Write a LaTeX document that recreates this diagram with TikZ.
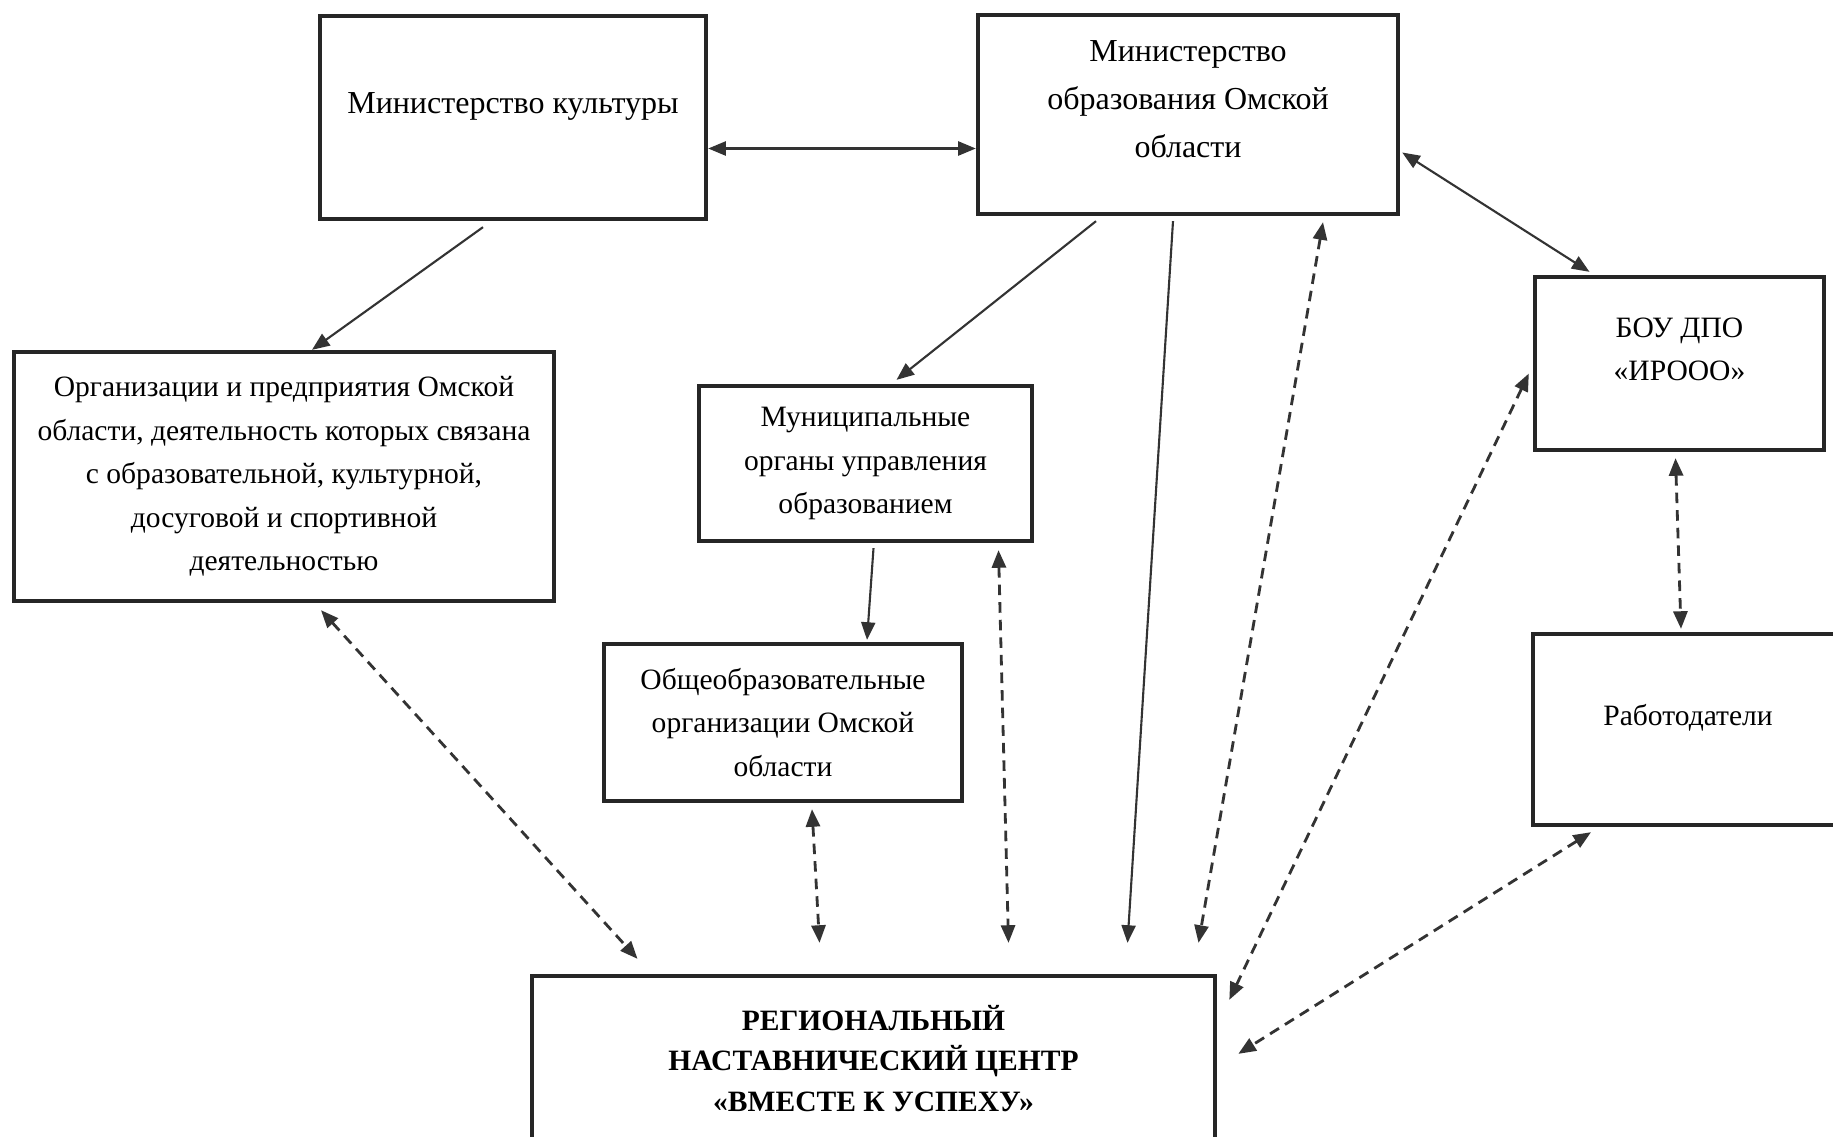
\documentclass[tikz,border=0pt]{standalone}
\usepackage{fontspec}
\setmainfont{Liberation Serif}
\usetikzlibrary{arrows.meta}
\tikzset{
  every node/.style={
    font=\fontsize{8.4}{12.4}\selectfont
  },
  unit/.style={
    shape=rectangle,
    draw=black!85,
    line width=1.2pt,
    align=center,
    inner sep=2pt
  },
  ministry/.style={
    unit,
    font=\fontsize{9.1}{13.6}\selectfont
  },
  link/.style={
    draw=black!80,
    line width=0.6pt,
    -{Triangle[length=5pt,width=4pt]}
  },
  twoway/.style={
    link,
    {Triangle[length=5pt,width=4pt]}-{Triangle[length=5pt,width=4pt]}
  },
  dotlink/.style={
    twoway,
    line width=0.8pt,
    dash pattern=on 3pt off 2pt
  }
}

\begin{document}
\begin{tikzpicture}[x=0.01cm,y=-0.01cm]
  \fill[white] (0,0) rectangle (1833,1136);
  \useasboundingbox (0,0) rectangle (1833,1136);

  % top row
  \node [ministry, minimum width=3.86cm, minimum height=2.03cm, text depth=8pt] (cult) at (513,117.5)
    {Министерство культуры};
  \node [ministry, minimum width=4.20cm, minimum height=1.99cm, text depth=8.8pt] (minobr) at (1188,114.5)
    {Министерство\\образования Омской\\области};

  % middle
  \node [unit, minimum width=5.40cm, minimum height=2.49cm] (org) at (284,476.5)
    {Организации и предприятия Омской\\области, деятельность которых связана\\
     с образовательной, культурной,\\досуговой и спортивной\\деятельностью};
  \node [unit, minimum width=3.33cm, minimum height=1.55cm] (muni) at (865.5,463.5)
    {Муниципальные\\органы управления\\образованием};
  \node [unit, minimum width=3.58cm, minimum height=1.57cm] (school) at (783,722.5)
    {Общеобразовательные\\организации Омской\\области};
  \node [unit, minimum width=2.89cm, minimum height=1.73cm, text depth=8.1pt] (irooo) at (1679.5,363.5)
    {БОУ ДПО\\«ИРООО»};
  \node [unit, minimum width=3.10cm, minimum height=1.91cm, text depth=8.5pt] (empl) at (1688,729.5)
    {Работодатели};

  % bottom
  \node [unit, minimum width=6.83cm, minimum height=1.84cm, text depth=5.5pt,
    font=\fontsize{8.4}{11.4}\selectfont\bfseries] (centre) at (873.5,1068)
    {РЕГИОНАЛЬНЫЙ\\НАСТАВНИЧЕСКИЙ ЦЕНТР\\«ВМЕСТЕ К УСПЕХУ»};

  % solid links
  \coordinate (h) at ([shift={(0,31)}]cult.east);
  \draw [twoway] (h) -- (h -| minobr.west);
  \draw [link] ([shift={(-30,6)}]cult.south) -- ([shift={(28,0)}]org.north);
  \draw [link] ([shift={(-92,5)}]minobr.south) -- ([shift={(31,-4)}]muni.north);
  \draw [link] ([shift={(-15,5)}]minobr.south) -- ([shift={(254,-31)}]centre.north);
  \draw [twoway] ([shift={(2,38)}]minobr.east) -- ([shift={(-90,-3)}]irooo.north);
  \draw [link] ([shift={(8,5)}]muni.south) -- ([shift={(84,-2)}]school.north);

  % dashed links to the centre
  \draw [dotlink] ([shift={(37,7)}]org.south) -- ([shift={(-236,-15)}]centre.north);
  \draw [dotlink] ([shift={(29,6)}]school.south) -- ([shift={(-54,-31)}]centre.north);
  \draw [dotlink] ([shift={(133,7)}]muni.south) -- ([shift={(135,-31)}]centre.north);
  \draw [dotlink] ([shift={(135,6)}]minobr.south) -- ([shift={(325,-31)}]centre.north);
  \draw [dotlink] ([shift={(-4,10)}]irooo.west) -- ([shift={(12,26)}]centre.north east);
  \draw [dotlink] ([shift={(-97,5)}]empl.south) -- ([shift={(21,80)}]centre.north east);
  \draw [dotlink] ([shift={(-4,6)}]irooo.south) -- ([shift={(-7,-3)}]empl.north);
\end{tikzpicture}
\end{document}
